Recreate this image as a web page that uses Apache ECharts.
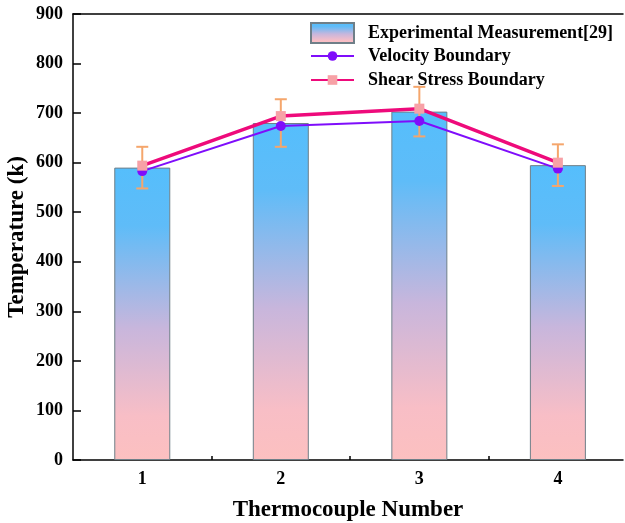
<!DOCTYPE html>
<html>
<head>
<meta charset="utf-8">
<script src="https://cdn.jsdelivr.net/npm/echarts@6/dist/echarts.min.js"></script>
<style>
  html, body { margin: 0; padding: 0; background: #fff; }
  #chart { width: 625px; height: 523px; }
</style>
</head>
<body>
<div id="chart"></div>
<script>
// 数据
const categories = [1, 2, 3, 4];
const measured = [590, 680, 703, 595];
const measuredErr = [42, 48, 50, 42];
const velocity = [583, 674, 684, 588];
const shear = [594, 694, 709, 600];
const minorTicks = [1.5, 2.5, 3.5];

const font = 'Liberation Serif';

const chart = echarts.init(document.getElementById('chart'));

const barColor = new echarts.graphic.LinearGradient(0, 0, 0, 1, [
  { offset: 0, color: '#55befc' },
  { offset: 0.2, color: '#5fbcf8' },
  { offset: 0.55, color: '#c8b6dc' },
  { offset: 0.85, color: '#f8bec6' },
  { offset: 1, color: '#fcc0c0' }
]);

const pairs = arr => categories.map((c, i) => [c, arr[i]]);

const legendText = { fontFamily: font, fontWeight: 'bold', fontSize: 18, lineHeight: 20, color: '#000', padding: [0, 0, 0, 9] };

const option = {
  animation: false,
  // v6 默认会把标签挤进画布，这里关掉
  grid: { left: 73, right: 2, top: 14, bottom: 63, outerBoundsMode: 'none' },
  // 两个图例：柱子的图标大一些，折线的标记小一些
  legend: [
    {
      left: 310,
      top: 22,
      padding: 0,
      itemWidth: 43,
      itemHeight: 20,
      textStyle: legendText,
      data: [{ name: 'Experimental Measurement[29]', icon: 'rect' }]
    },
    {
      left: 310,
      top: 46,
      padding: 0,
      orient: 'vertical',
      itemWidth: 43,
      itemHeight: 12,
      itemGap: 4,
      textStyle: legendText,
      data: ['Velocity Boundary', 'Shear Stress Boundary']
    }
  ],
  xAxis: [
    {
      type: 'value',
      min: 0.5,
      max: 4.47,
      position: 'bottom',
      name: 'Thermocouple Number',
      nameLocation: 'middle',
      nameGap: 39,
      nameMoveOverlap: false,
      nameTextStyle: { fontFamily: font, fontWeight: 'bold', fontSize: 23, color: '#000' },
      axisLine: { lineStyle: { color: '#000', width: 1.5 } },
      axisTick: { inside: true, length: 7, customValues: categories, lineStyle: { color: '#000', width: 1.5 } },
      axisLabel: {
        customValues: categories,
        margin: 10,
        fontFamily: font, fontWeight: 'bold', fontSize: 18, color: '#000'
      },
      splitLine: { show: false }
    },
    {
      type: 'value',
      min: 0.5,
      max: 4.47,
      position: 'bottom',
      offset: 0,
      axisLine: { show: false },
      axisTick: { inside: true, length: 4, customValues: minorTicks, lineStyle: { color: '#000', width: 1.5 } },
      axisLabel: { show: false },
      splitLine: { show: false }
    },
    {
      type: 'value',
      min: 0.5,
      max: 4.47,
      position: 'top',
      axisLine: { lineStyle: { color: '#000', width: 1.5 } },
      axisTick: { show: false },
      axisLabel: { show: false },
      splitLine: { show: false }
    }
  ],
  yAxis: {
    type: 'value',
    min: 0,
    max: 900,
    interval: 100,
    name: 'Temperature (k)',
    nameLocation: 'middle',
    nameGap: 44,
    nameMoveOverlap: false,
    nameTextStyle: { fontFamily: font, fontWeight: 'bold', fontSize: 23, color: '#000' },
    axisLine: { show: true, lineStyle: { color: '#000', width: 1.5 } },
    axisTick: { inside: true, length: 8, lineStyle: { color: '#000', width: 1.5 } },
    axisLabel: { margin: 10, fontFamily: font, fontWeight: 'bold', fontSize: 18, color: '#000' },
    splitLine: { show: false }
  },
  series: [
    {
      name: 'Experimental Measurement[29]',
      type: 'bar',
      barWidth: 56,
      z: 2,
      itemStyle: { color: barColor, borderColor: '#6f7f88', borderWidth: 1 },
      data: pairs(measured)
    },
    {
      name: 'err',
      type: 'custom',
      z: 3,
      data: categories.map((c, i) => [c, measured[i], measuredErr[i]]),
      renderItem: function (params, api) {
        const x = api.value(0), y = api.value(1), e = api.value(2);
        const top = api.coord([x, y + e]);
        const bot = api.coord([x, y - e]);
        const hw = 6;
        const style = { stroke: '#f5a66c', lineWidth: 2 };
        return {
          type: 'group',
          children: [
            { type: 'line', shape: { x1: top[0], y1: top[1], x2: bot[0], y2: bot[1] }, style: style },
            { type: 'line', shape: { x1: top[0] - hw, y1: top[1], x2: top[0] + hw, y2: top[1] }, style: style },
            { type: 'line', shape: { x1: bot[0] - hw, y1: bot[1], x2: bot[0] + hw, y2: bot[1] }, style: style }
          ]
        };
      }
    },
    {
      name: 'Velocity Boundary',
      type: 'line',
      z: 4,
      symbol: 'circle',
      symbolSize: 10,
      lineStyle: { color: '#7f0dfb', width: 2 },
      itemStyle: { color: '#7f0dfb' },
      data: pairs(velocity)
    },
    {
      name: 'Shear Stress Boundary',
      type: 'line',
      z: 5,
      symbol: 'rect',
      symbolSize: 10,
      lineStyle: { color: '#ee0a7b', width: 3.5 },
      itemStyle: { color: '#f7a1a6' },
      data: pairs(shear)
    }
  ]
};

chart.setOption(option);
</script>
</body>
</html>
